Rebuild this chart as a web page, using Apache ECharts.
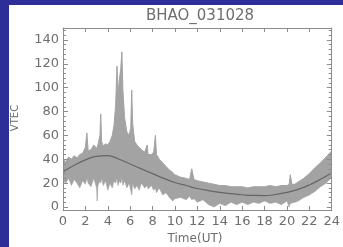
<!DOCTYPE html>
<html><head><meta charset="utf-8">
<script src="https://cdn.jsdelivr.net/npm/echarts@6/dist/echarts.min.js"></script>
<style>
html,body{margin:0;padding:0;background:#2e2e99;width:343px;height:247px;overflow:hidden}
#c{position:absolute;left:9px;top:5px;width:334px;height:242px;background:#fff}
</style></head>
<body><div id="c"></div>
<script>
// Noise band envelope (time in UT hours, upper and lower VTEC)
const times = [0,0.25,0.5,0.75,1,1.25,1.5,1.75,2,2.13,2.25,2.5,2.75,3,3.05,3.12,3.3,3.37,3.45,3.6,3.8,4,4.2,4.4,4.55,4.7,4.82,4.92,5.05,5.15,5.26,5.35,5.5,5.7,5.9,6.05,6.14,6.22,6.4,6.6,6.8,7,7.3,7.52,7.6,7.9,8.1,8.25,8.35,8.6,8.9,9.2,9.5,9.8,10,10.5,11,11.3,11.5,11.7,12,12.5,13,13.5,14,14.5,15,15.5,16,16.5,17,17.5,18,18.5,19,19.5,20,20.2,20.3,20.45,20.7,21,21.5,22,22.5,23,23.5,24];
const upper = [40,38,42,40,43,41,44,45,50,62,47,48,52,49,50,52,60,78,55,51,53,52,55,60,68,85,118,96,108,115,130,98,75,63,60,66,98,70,55,52,50,48,46,52,44,44,46,60,44,40,37,34,31,29,27,25,24,23,32,23,22,21,20,19,18,18,17,17,17,16,17,17,17,18,17,18,18,19,27,19,19,21,24,28,33,37,42,47];
const lower = [22,20,24,18,23,20,16,22,19,24,20,17,24,16,5,18,22,20,24,18,22,14,20,16,22,20,24,18,22,20,24,18,22,16,20,14,10,20,15,18,14,20,16,18,15,18,14,16,12,16,10,12,8,5,7,8,6,9,6,7,4,6,2,0,3,1,4,2,4,2,4,3,5,3,4,2,5,0,3,2,4,5,8,10,13,17,20,25];
// Smooth fitted curve
const fitTimes = [0,1,2,3,4,5,6,7,8,9,10,11,12,13,14,15,16,17,18,19,20,21,22,23,24];
const fitValues = [29.5,35,39.5,42.5,43,40,36,32,28,24,20.5,18,15.5,13.8,12.3,11.2,10.3,9.7,9.6,10.5,12.2,14.8,18.5,23.2,28.8];
// Tick labels
const yMajor = [0,20,40,60,80,100,120,140];
const xTickInterval = 2;

const yMinor = [];
for (let v = 4; v < 150; v += 4) if (v % 20 !== 0) yMinor.push(v);

const upperData = times.map((t,i)=>[t, upper[i]]);
const lowerData = times.map((t,i)=>[t, lower[i]]);
const fitData = fitTimes.map((t,i)=>[t, fitValues[i]]);

const axisColor = '#8c8c8c';
const textColor = '#6e6e6e';
const font = 'DejaVu Sans';
const YMIN = -2.5, YMAX = 150;

function yAx(pos, customTicks, len, labels, showLine){
  return {
    type:'value', position:pos, min:YMIN, max:YMAX, gridIndex:0, z:10,
    axisLine:{show:showLine, onZero:false, lineStyle:{color:axisColor, width:1}},
    axisTick:{show:true, inside:true, length:len, customValues:customTicks, lineStyle:{color:axisColor}},
    axisLabel:{show:labels, customValues: yMajor, color:textColor, fontFamily:font, fontSize:13, margin:4},
    splitLine:{show:false}
  };
}
function xAx(pos, labels){
  return {
    type:'value', position:pos, min:0, max:24, interval:xTickInterval, gridIndex:0, z:10,
    axisLine:{show:true, onZero:false, lineStyle:{color:axisColor, width:1}},
    axisTick:{show:true, inside:true, length:4, lineStyle:{color:axisColor}},
    axisLabel:{show:labels, color:textColor, fontFamily:font, fontSize:13, margin:5, showMinLabel:true, showMaxLabel:true},
    splitLine:{show:false}
  };
}

const chart = echarts.init(document.getElementById('c'), null, {renderer:'canvas'});
chart.setOption({
  backgroundColor:'#ffffff',
  animation:false,
  grid:{left:54, right:6, top:23, bottom:37, containLabel:false},
  xAxis:[xAx('bottom', true), xAx('top', false)],
  yAxis:[
    yAx('left', yMajor, 5, true, true),
    yAx('left', yMinor, 3, false, false),
    yAx('right', yMajor, 5, false, true),
    yAx('right', yMinor, 3, false, false)
  ],
  graphic:[
    {type:'text', x:191, y:11, style:{text:'BHAO_031028', fill:textColor, font:'15px "DejaVu Sans"', textAlign:'center', textVerticalAlign:'middle'}},
    {type:'text', x:186, y:234, style:{text:'Time(UT)', fill:textColor, font:'12px "DejaVu Sans"', textAlign:'center', textVerticalAlign:'middle'}},
    {type:'text', x:6, y:113, rotation:Math.PI/2, style:{text:'VTEC', fill:textColor, font:'10px "DejaVu Sans"', textAlign:'center', textVerticalAlign:'middle'}}
  ],
  series:[
    {type:'line', data:upperData, symbol:'none', lineStyle:{color:'#a3a3a3', width:1}, areaStyle:{color:'#a3a3a3', opacity:1}, silent:true, z:2},
    {type:'line', data:lowerData, symbol:'none', lineStyle:{color:'#a3a3a3', width:0.6}, areaStyle:{color:'#ffffff', opacity:1}, silent:true, z:3},
    {type:'line', data:fitData, smooth:true, symbol:'none', lineStyle:{color:'#666666', width:1.2}, silent:true, z:4}
  ]
});
</script></body></html>
